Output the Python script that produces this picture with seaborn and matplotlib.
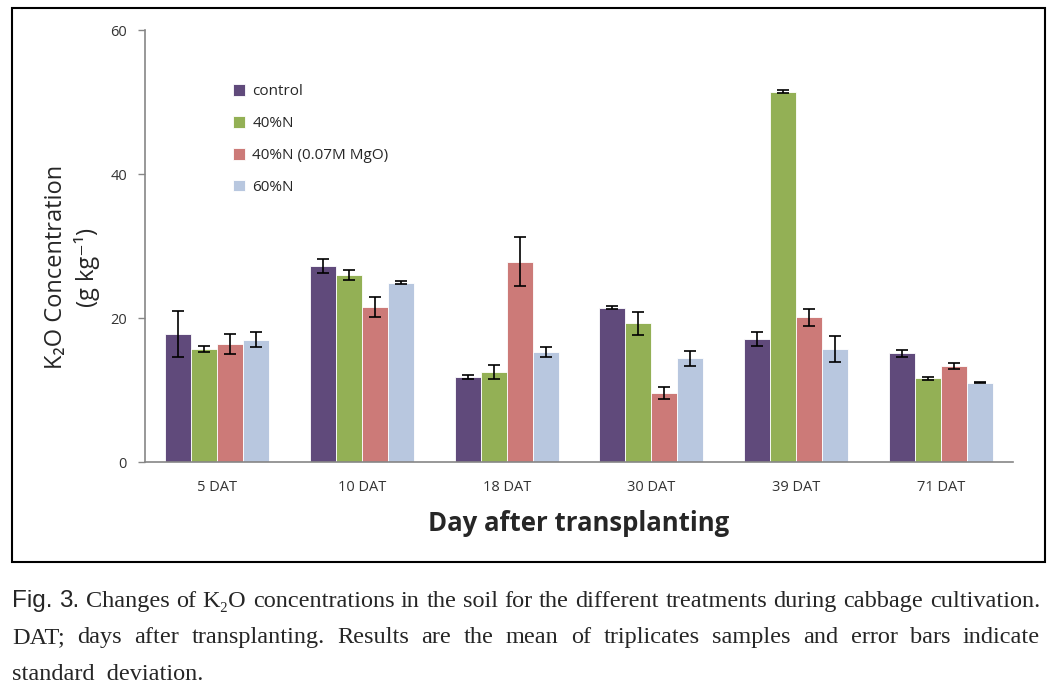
import numpy as np
import pandas as pd
import matplotlib
matplotlib.use("Agg")
import matplotlib.pyplot as plt
from matplotlib.patches import Rectangle
import seaborn as sns

# data ─────────────────────────────────────────────────────────────────────────
days = ["5 DAT", "10 DAT", "18 DAT", "30 DAT", "39 DAT", "71 DAT"]
treatments = ["control", "40%N", "40%N (0.07M MgO)", "60%N"]

control = [17.8, 27.2, 11.8, 21.4, 17.1, 15.1]
n40 = [15.7, 26.0, 12.5, 19.3, 51.4, 11.6]
n40_mgo = [16.4, 21.5, 27.8, 9.6, 20.1, 13.3]
n60 = [17.0, 24.9, 15.3, 14.4, 15.7, 11.0]

control_sd = [3.2, 1.0, 0.3, 0.2, 1.0, 0.5]
n40_sd = [0.4, 0.7, 1.0, 1.6, 0.2, 0.15]
n40_mgo_sd = [1.4, 1.4, 3.4, 0.8, 1.2, 0.4]
n60_sd = [1.0, 0.2, 0.7, 1.0, 1.8, 0.05]

colors = ["#604A7B", "#93B055", "#CC7A78", "#B8C7DF"]

caption = [
    "Fig. 3. Changes of K₂O concentrations in the soil for the different treatments during cabbage cultivation.",
    "DAT; days after transplanting. Results are the mean of triplicates samples and error bars indicate",
    "standard  deviation.",
]

means = [control, n40, n40_mgo, n60]
sds = [control_sd, n40_sd, n40_mgo_sd, n60_sd]
df = pd.DataFrame({
    "day": days * 4,
    "treatment": np.repeat(treatments, len(days)),
    "value": np.concatenate(means),
})

sns.set_theme(style="white")
plt.rcParams["font.family"] = ["Open Sans", "DejaVu Sans"]

W, H = 1055, 695
fig = plt.figure(figsize=(W / 100, H / 100), dpi=100)
ax = fig.add_axes([145 / W, 1 - 462 / H, 868 / W, 432 / H])

sns.barplot(data=df, x="day", y="value", hue="treatment", order=days,
            hue_order=treatments, palette=colors, errorbar=None,
            width=0.72, saturation=1, edgecolor="white", linewidth=0.6, ax=ax)

# error bars on top of each bar
for cont, sd in zip(ax.containers, sds):
    xs = [b.get_x() + b.get_width() / 2 for b in cont]
    ys = [b.get_height() for b in cont]
    ax.errorbar(xs, ys, yerr=sd, fmt="none", ecolor="black",
                elinewidth=1.2, capsize=4, capthick=1.2, zorder=5)

ax.set_ylim(0, 60)
ax.set_xlim(-0.5, 5.5)
ax.set_yticks([0, 20, 40, 60])
ax.set_xticks(range(len(days)))
ax.set_xticklabels(days)
ax.set_xticks(np.arange(-0.5, 6, 1), minor=True)
ax.tick_params(axis="x", which="major", length=0, pad=13, labelsize=10.5, labelcolor="#333333")
ax.tick_params(axis="x", which="minor", length=5, color="#868686", width=1, direction="out")
ax.tick_params(axis="y", length=5, color="#868686", width=1, direction="out",
               labelsize=10.5, labelcolor="#333333", pad=8, left=True)

for side in ["top", "right"]:
    ax.spines[side].set_visible(False)
for side in ["left", "bottom"]:
    ax.spines[side].set_color("#868686")
    ax.spines[side].set_linewidth(1.2)

ax.set_xlabel("Day after transplanting", fontsize=18.5, fontweight="bold", labelpad=11)
ax.set_ylabel("K₂O Concentration\n(g kg⁻¹)", fontsize=17, linespacing=1.3)
ax.yaxis.set_label_coords(-0.052, 0.451)

ax.legend(loc="upper left", bbox_to_anchor=(0.085, 0.907), frameon=False,
          fontsize=11, handlelength=0.8, handleheight=0.8, handletextpad=0.5,
          labelspacing=1.1)

# outer frame around the chart
fig.add_artist(Rectangle((12 / W, 1 - 562 / H), 1033 / W, 554 / H, transform=fig.transFigure,
                         fill=False, edgecolor="black", linewidth=1.5))

# caption, justified like the journal text
renderer = fig.canvas.get_renderer()
serif = ["Liberation Serif", "DejaVu Serif"]
sans = ["Liberation Sans", "DejaVu Sans"]
x_left, x_right = 12, 1040
baselines = [607, 643, 680]
for i, (line, yb) in enumerate(zip(caption, baselines)):
    words = line.split(" ") if i < 2 else [line]
    texts = []
    for j, w in enumerate(words):
        fam = sans if (i == 0 and j < 2) else serif
        texts.append(fig.text(0, 1 - yb / H, w, family=fam, fontsize=17.5, va="baseline"))
    widths = [t.get_window_extent(renderer).width for t in texts]
    gap = (x_right - x_left - sum(widths)) / max(len(words) - 1, 1)
    x = x_left
    for t, w in zip(texts, widths):
        t.set_x(x / W)
        x += w + gap

fig.savefig("out.png", dpi=100)
